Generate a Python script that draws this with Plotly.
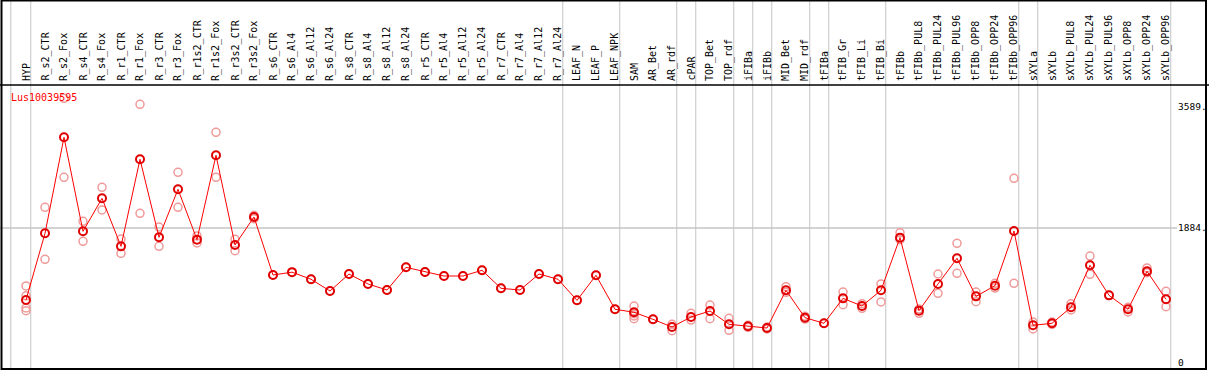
import plotly.graph_objects as go

title = "Lus10039595"
categories = [
    "HYP", "R_s2_CTR", "R_s2_Fox", "R_s4_CTR", "R_s4_Fox", "R_r1_CTR", "R_r1_Fox",
    "R_r3_CTR", "R_r3_Fox", "R_r1s2_CTR", "R_r1s2_Fox", "R_r3s2_CTR", "R_r3s2_Fox",
    "R_s6_CTR", "R_s6_Al4", "R_s6_Al12", "R_s6_Al24", "R_s8_CTR", "R_s8_Al4",
    "R_s8_Al12", "R_s8_Al24", "R_r5_CTR", "R_r5_Al4", "R_r5_Al12", "R_r5_Al24",
    "R_r7_CTR", "R_r7_Al4", "R_r7_Al12", "R_r7_Al24", "LEAF_N", "LEAF_P", "LEAF_NPK",
    "SAM", "AR_Bet", "AR_rdf", "cPAR", "TOP_Bet", "TOP_rdf", "iFIBa", "iFIBb",
    "MID_Bet", "MID_rdf", "tFIBa", "tFIB_Gr", "tFIB_Li", "tFIB_Bi", "tFIBb",
    "tFIBb_PUL8", "tFIBb_PUL24", "tFIBb_PUL96", "tFIBb_OPP8", "tFIBb_OPP24",
    "tFIBb_OPP96", "sXYLa", "sXYLb", "sXYLb_PUL8", "sXYLb_PUL24", "sXYLb_PUL96",
    "sXYLb_OPP8", "sXYLb_OPP24", "sXYLb_OPP96",
]
means = [
    872, 1809, 3159, 1837, 2301, 1626, 2850, 1753, 2428, 1720, 2906, 1645, 2039,
    1223, 1263, 1163, 998, 1237, 1097, 1012, 1331, 1265, 1209, 1209, 1289,
    1036, 1012, 1237, 1163, 867, 1219, 741,
    699, 600, 492, 633, 717, 530, 502, 478, 1008, 623, 544, 895, 787, 1008,
    1748, 722, 1097, 1458, 923, 1073, 1842,
    516, 544, 769, 1359, 937, 741, 1275, 881,
]
replicates = [
    [1069, 930, 760, 722], [2175, 1444], [3707, 2597], [1978, 1697], [2456, 2137],
    [1729, 1528], [3623, 2090], [1898, 1626], [2667, 2175], [1772, 1673],
    [3229, 2597], [1725, 1565], [2062, 2015],
    [1223], [1263], [1163], [998], [1237], [1097], [1012], [1331], [1265], [1209],
    [1209], [1289], [1036], [1012], [1237], [1163], [867], [1219], [741],
    [787, 680, 647, 609], [600], [530, 440], [684, 590], [801, 609], [614, 446],
    [516, 488], [492, 464], [1059, 980], [642, 604], [544], [984, 806], [820, 754],
    [1097, 844], [1818, 1720], [745, 684], [1237, 966], [1669, 1247], [984, 848],
    [1106, 1040], [2583, 1106], [562, 464], [562, 530], [820, 731], [1490, 1233],
    [937], [769, 703], [1322, 1256], [994, 778],
]
group_sizes = [1, 28, 3, 3, 1, 2, 1, 1, 2, 1, 3, 7, 1, 7]
tick_values = [0, 1884, 3589]
tick_labels = ["0", "1884.", "3589."]
grid_value = 1884

W, H = 1209, 370
x0_px, dx_px = 26, 19
y0_px, scale = 362, 0.07113  # px per unit

xs = list(range(len(categories)))
x_range = [(0 - x0_px) / dx_px, (W - x0_px) / dx_px]
y_range = [(y0_px - H) / scale, y0_px / scale]

rep_x, rep_y = [], []
for i, reps in enumerate(replicates):
    for v in reps:
        rep_x.append(i)
        rep_y.append(v)

fig = go.Figure()
fig.add_trace(go.Scatter(
    x=rep_x, y=rep_y, mode="markers",
    marker=dict(symbol="circle-open", size=8, color="#f09a9a", line=dict(width=1.5)),
    showlegend=False, hoverinfo="skip",
))
fig.add_trace(go.Scatter(
    x=xs, y=means, mode="lines+markers",
    line=dict(color="#ff0000", width=1),
    marker=dict(symbol="circle-open", size=8, color="#e00000", line=dict(width=2)),
    showlegend=False,
))

shapes = []
seps = [-0.8]
c = 0
for g in group_sizes:
    c += g
    seps.append(c - 1 + 0.25)
for s in seps:
    shapes.append(dict(type="line", xref="x", yref="paper", x0=s, x1=s, y0=0, y1=1,
                       line=dict(color="#c4c4c4", width=1), layer="below"))
shapes.append(dict(type="line", xref="paper", yref="y", x0=0, x1=1177 / W,
                   y0=grid_value, y1=grid_value,
                   line=dict(color="#c4c4c4", width=1.5), layer="below"))
shapes.append(dict(type="line", xref="paper", yref="paper", x0=0, x1=1,
                   y0=1 - 85 / H, y1=1 - 85 / H, line=dict(color="black", width=1.5)))
shapes.append(dict(type="rect", xref="paper", yref="paper", x0=1.5 / W, x1=1206 / W,
                   y0=1 / H, y1=1 - 0.5 / H, line=dict(color="black", width=2)))

annotations = []
for i, cat in enumerate(categories):
    annotations.append(dict(x=i, y=1 - 83 / H, xref="x", yref="paper", text=cat,
                            textangle=-90, showarrow=False, xanchor="center",
                            yanchor="bottom",
                            font=dict(family="DejaVu Sans Mono", size=10, color="black")))
for v, t in zip(tick_values, tick_labels):
    annotations.append(dict(x=1176 / W, y=v, xref="paper", yref="y", text=t,
                            showarrow=False, xanchor="left", yanchor="middle",
                            font=dict(family="DejaVu Sans Mono", size=9.5, color="black")))
annotations.append(dict(x=9 / W, y=1 - 97 / H, xref="paper", yref="paper", text=title,
                        showarrow=False, xanchor="left", yanchor="middle",
                        font=dict(family="DejaVu Sans Mono", size=10, color="#ff0000")))

fig.update_layout(
    width=W, height=H, margin=dict(l=0, r=0, t=0, b=0),
    paper_bgcolor="white", plot_bgcolor="white",
    xaxis=dict(range=x_range, visible=False, fixedrange=True),
    yaxis=dict(range=y_range, visible=False, fixedrange=True),
    shapes=shapes, annotations=annotations,
)
fig.write_html(
    "out.html",
    config={"displayModeBar": False},
    post_script="document.body.style.margin='0';document.body.style.overflow='hidden';",
)
